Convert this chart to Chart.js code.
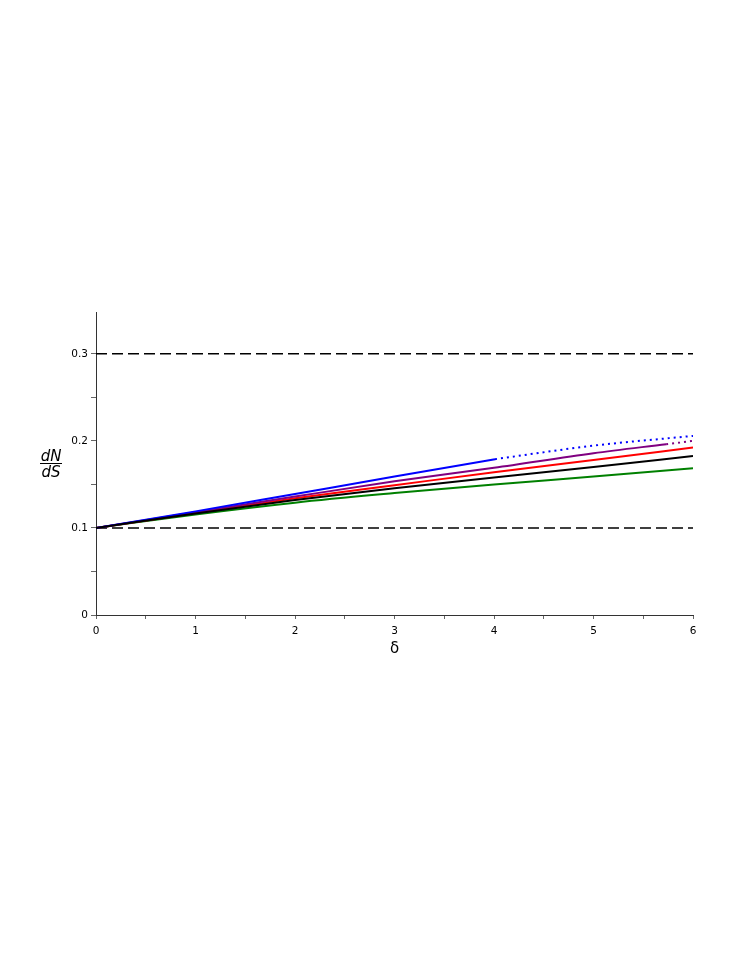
<!DOCTYPE html>
<html>
<head>
<meta charset="utf-8">
<script src="https://cdn.jsdelivr.net/npm/chart.js@4"></script>
<style>
  body { margin: 0; background: #fff; }
  #wrap { width: 747px; height: 967px; }
</style>
</head>
<body>
<div id="wrap"><canvas id="ratioChart" width="747" height="967"></canvas></div>
<script>
// delta values and dN/dS
const deltaFull = [0, 1, 2, 3, 4, 5, 6];
const greenVals = [0.1, 0.1155, 0.129, 0.140, 0.150, 0.159, 0.1686];
const blackVals = [0.1, 0.1165, 0.132, 0.1455, 0.158, 0.170, 0.1825];
const redVals = [0.1, 0.117, 0.134, 0.149, 0.164, 0.178, 0.1923];

const purpleDelta = [0, 1, 2, 3, 4, 5, 5.73];
const purpleVals = [0.1, 0.118, 0.136, 0.1535, 0.169, 0.1858, 0.1962];
const purpleDotDelta = [5.73, 6];
const purpleDotVals = [0.1962, 0.2];

const blueDelta = [0, 1, 2, 3, 4.01];
const blueVals = [0.1, 0.119, 0.139, 0.159, 0.179];
const blueDotDelta = [4.01, 5, 6];
const blueDotVals = [0.179, 0.1945, 0.2057];

const boundDelta = [0, 6];
const lowerBound = [0.1, 0.1];
const upperBound = [0.3, 0.3];

const yTickLabels = ["0", "0.1", "0.2", "0.3"];
const xTickLabels = ["0", "1", "2", "3", "4", "5", "6"];

function pts(xs, ys) {
    return xs.map((x, i) => ({ x: x, y: ys[i] }));
}

function curve(label, xs, ys, color, dash) {
    return {
        label: label,
        data: pts(xs, ys),
        borderColor: color,
        backgroundColor: color,
        borderWidth: 2,
        borderDash: dash || [],
        pointRadius: 0,
        cubicInterpolationMode: "monotone",
        fill: false
    };
}

function bound(label, ys) {
    return {
        label: label,
        data: pts(boundDelta, ys),
        borderColor: "#000",
        borderWidth: 1.6,
        borderDash: [11, 5],
        pointRadius: 0
    };
}

// fraction label dN / dS left of the y axis
const fractionLabel = {
    id: "fractionLabel",
    afterDraw(chart) {
        const c = chart.ctx;
        const cx = 51;
        const cy = 463;
        c.save();
        c.fillStyle = "#000";
        c.strokeStyle = "#000";
        c.font = "italic 15px 'DejaVu Sans'";
        c.textAlign = "center";
        c.textBaseline = "alphabetic";
        c.fillText("dN", cx, cy - 2);
        c.fillText("dS", cx, cy + 14);
        c.lineWidth = 1;
        c.beginPath();
        c.moveTo(40, cy + 0.5);
        c.lineTo(62, cy + 0.5);
        c.stroke();
        c.restore();
    }
};

const tickFont = { family: "DejaVu Sans", size: 10.5 };

new Chart(document.getElementById("ratioChart").getContext("2d"), {
    type: "line",
    data: {
        datasets: [
            curve("black", deltaFull, blackVals, "#000000"),
            curve("blue", blueDelta, blueVals, "#0000ff"),
            curve("blue dotted", blueDotDelta, blueDotVals, "#0000ff", [2, 4]),
            curve("purple", purpleDelta, purpleVals, "#800080"),
            curve("purple dotted", purpleDotDelta, purpleDotVals, "#800080", [2, 4]),
            curve("red", deltaFull, redVals, "#ff0000"),
            curve("green", deltaFull, greenVals, "#008000"),
            bound("lower", lowerBound),
            bound("upper", upperBound)
        ]
    },
    options: {
        responsive: false,
        animation: false,
        layout: {
            padding: { left: 0, top: 312, right: 54, bottom: 309 }
        },
        plugins: {
            legend: { display: false },
            tooltip: { enabled: false }
        },
        scales: {
            x: {
                type: "linear",
                min: 0,
                max: 6,
                afterFit: s => { s.height = 43; },
                border: { display: true, color: "#333", width: 1 },
                grid: { drawOnChartArea: false, drawTicks: true, tickLength: 4, color: "#666" },
                ticks: {
                    stepSize: 0.5,
                    color: "#000",
                    font: tickFont,
                    padding: 6,
                    maxRotation: 0,
                    autoSkip: false,
                    callback: v => Number.isInteger(v) ? xTickLabels[v] : ""
                },
                title: {
                    display: true,
                    text: "δ",
                    color: "#000",
                    font: { family: "DejaVu Sans", size: 15 },
                    padding: 0
                }
            },
            y: {
                min: 0,
                max: 0.348,
                afterFit: s => { s.width = 96; },
                afterBuildTicks: s => { s.ticks = s.ticks.filter(t => t.value <= 0.3001); },
                border: { display: true, color: "#333", width: 1 },
                grid: { drawOnChartArea: false, drawTicks: true, tickLength: 5, color: "#666" },
                ticks: {
                    stepSize: 0.05,
                    color: "#000",
                    font: tickFont,
                    padding: 3,
                    autoSkip: false,
                    callback: v => {
                        const k = Math.round(v * 20);
                        return k % 2 === 0 ? yTickLabels[k / 2] : "";
                    }
                }
            }
        }
    },
    plugins: [fractionLabel]
});
</script>
</body>
</html>
